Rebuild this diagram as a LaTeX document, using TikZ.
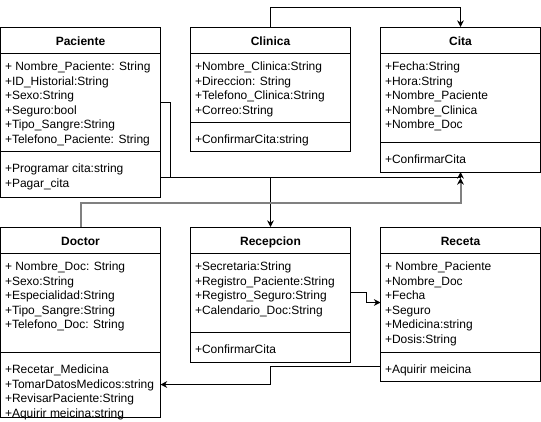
\documentclass[tikz,border=0pt]{standalone}
\usepackage{fontspec}
\setmainfont{Liberation Sans}
\usetikzlibrary{arrows.meta,positioning}
\tikzset{
  ht/.style={minimum height=#1*0.75pt},
  sect/.style={draw, minimum width=120pt, inner sep=0pt, outer sep=0pt},
  ttl/.style={sect, ht=26, anchor=north west, font=\fontsize{9}{10.9}\selectfont\bfseries, text height=7.5pt, text depth=0pt},
  rows/.style={anchor=north west, inner sep=0pt, align=left, font=\fontsize{9}{10.9}\selectfont},
  conn/.style={-{Stealth[length=5pt,width=5pt]}},
  soft/.style={draw=black!50, line width=1.5pt, -{Stealth[length=5pt,width=5pt,color=black]}}
}
\begin{document}
\begin{tikzpicture}[x=0.75pt,y=-0.75pt,line width=0.75pt]
	\useasboundingbox (0,0) rectangle (541,421);

	\node[ttl] (pacH) at (0.5,27) {Paciente};
	\node[sect, ht=98, below=0pt of pacH] (pacA) {};
	\node[sect, ht=46, below=0pt of pacA] (pacM) {};
	\node[rows] (pacAt) at ([shift={(4,7)}]pacA.north west) {\strut+ Nombre\_Paciente: String\\+ID\_Historial:String\\+Sexo:String\\+Seguro:bool\\+Tipo\_Sangre:String\\+Telefono\_Paciente: String};
	\node[rows] (pacMt) at ([shift={(4,11)}]pacM.north west) {\strut+Programar cita:string\\+Pagar\_cita};

	\node[ttl] (cliH) at (190.5,27) {Clinica};
	\node[sect, ht=69, below=0pt of cliH] (cliA) {};
	\node[sect, ht=29, below=0pt of cliA] (cliM) {};
	\node[rows] (cliAt) at ([shift={(4,7)}]cliA.north west) {\strut+Nombre\_Clinica:String\\+Direccion: String\\+Telefono\_Clinica:String\\+Correo:String};
	\node[rows] (cliMt) at ([shift={(4,11)}]cliM.north west) {\strut+ConfirmarCita:string};

	\node[ttl] (citH) at (380.5,27) {Cita};
	\node[sect, ht=89, below=0pt of citH] (citA) {};
	\node[sect, ht=30, below=0pt of citA] (citM) {};
	\node[rows] (citAt) at ([shift={(4,7)}]citA.north west) {\strut+Fecha:String\\+Hora:String\\+Nombre\_Paciente\\+Nombre\_Clinica\\+Nombre\_Doc};
	\node[rows] (citMt) at ([shift={(4,11)}]citM.north west) {\strut+ConfirmarCita};

	\node[ttl] (docH) at (0.5,227) {Doctor};
	\node[sect, ht=99, below=0pt of docH] (docA) {};
	\node[sect, ht=65, below=0pt of docA] (docM) {};
	\node[rows] (docAt) at ([shift={(4,7)}]docA.north west) {\strut+ Nombre\_Doc: String\\+Sexo:String\\+Especialidad:String\\+Tipo\_Sangre:String\\+Telefono\_Doc: String};
	\node[rows] (docMt) at ([shift={(4,11)}]docM.north west) {\strut+Recetar\_Medicina\\+TomarDatosMedicos:string\\+RevisarPaciente:String\\+Aquirir meicina:string};

	\node[ttl] (recH) at (190.5,227) {Recepcion};
	\node[sect, ht=79, below=0pt of recH] (recA) {};
	\node[sect, ht=30, below=0pt of recA] (recM) {};
	\node[rows] (recAt) at ([shift={(4,7)}]recA.north west) {\strut+Secretaria:String\\+Registro\_Paciente:String\\+Registro\_Seguro:String\\+Calendario\_Doc:String};
	\node[rows] (recMt) at ([shift={(4,11)}]recM.north west) {\strut+ConfirmarCita};

	\node[ttl] (retH) at (380.5,227) {Receta};
	\node[sect, ht=99, below=0pt of retH] (retA) {};
	\node[sect, ht=29, below=0pt of retA] (retM) {};
	\node[rows] (retAt) at ([shift={(4,7)}]retA.north west) {\strut+ Nombre\_Paciente\\+Nombre\_Doc\\+Fecha\\+Seguro\\+Medicina:string\\+Dosis:String};
	\node[rows] (retMt) at ([shift={(4,11)}]retM.north west) {\strut+Aquirir meicina};

	\draw[conn] (cliH.north) -- ++(0,-20) -| (citH.north);
	\draw[conn] (pacA.east) -| (170,177) -| (citM.south);
	\draw[conn] ([yshift=-2.25pt]pacM.east) -| (recH.north);
	\draw[soft] (docH.north) -- ++(0,-24) -| ([yshift=-4.5pt]citM.south);
	\draw[conn] (recA.east) -- ++(16,0) |- (retA.west);
	\draw[conn] (retM.west) -- ++(-110.5,0) |- (docM.east);
\end{tikzpicture}
\end{document}
